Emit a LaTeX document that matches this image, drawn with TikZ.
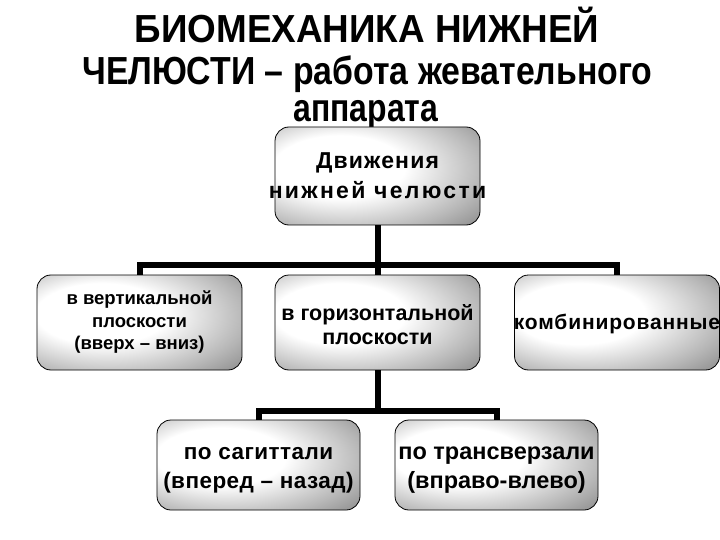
\documentclass[tikz,border=0pt]{standalone}
\usepackage{graphicx}
\usepackage{fontspec}
\setmainfont{Liberation Sans}
\newfontfamily\spA[LetterSpace=5]{Liberation Sans}
\newfontfamily\spB[LetterSpace=10]{Liberation Sans}
\newfontfamily\spC[LetterSpace=4]{Liberation Sans}
\newfontfamily\spD[LetterSpace=2]{Liberation Sans}
\pgfdeclareradialshading{metalshade}{\pgfpoint{-12bp}{6bp}}{color(0bp)=(white); color(16bp)=(white); color(32bp)=(black!28); color(50bp)=(black!62); color(70bp)=(black!82)}
\tikzset{
  box/.style={draw=black, line width=0.8pt, rounded corners=14pt, shading=metalshade,
    align=center, inner sep=2pt},
  conn/.style={line width=6pt, black},
  ttl/.style={font=\bfseries\fontsize{38}{42}\selectfont, anchor=base, inner sep=0pt}
}
\begin{document}
\begin{tikzpicture}[x=1pt,y=-1pt]
\useasboundingbox (0,0) rectangle (720,540);
\fill[white] (0,0) rectangle (720,540);
% title
\node[ttl] (t1) at (367,43) {\scalebox{0.97}[1.03]{БИОМЕХАНИКА НИЖНЕЙ}};
\node[ttl] (t2) at (367.5,85) {\scalebox{0.89}[1.03]{ЧЕЛЮСТИ – работа жевательного}};
\node[ttl] (t3) at (366,122) {\scalebox{0.84}[1.03]{аппарата}};
% boxes
\node[box, minimum width=205pt, minimum height=98pt] (T) at (377.5,176) {};
\node[font=\bfseries\fontsize{23}{30}\selectfont, align=center] (Tt) at (T.center) {{\spA Движения}\\{\spB нижней челюсти}};
\node[box, minimum width=205pt, minimum height=95pt] (L) at (139.5,322.5) {};
\node[font=\bfseries\fontsize{18.5}{22.5}\selectfont, align=center] (Lt) at ([yshift=0pt]L.center) {в вертикальной\\плоскости\\(вверх – вниз)};
\node[box, minimum width=205pt, minimum height=95pt] (M) at (377.5,322.5) {};
\node[font=\bfseries\fontsize{21.5}{24.5}\selectfont, align=center] (Mt) at ([yshift=-2pt]M.center) {в горизонтальной\\плоскости};
\node[box, minimum width=205pt, minimum height=95pt] (R) at (617,322.5) {};
\node[font=\bfseries\fontsize{21}{25}\selectfont, align=center] (Rt) at ([yshift=-1pt]R.center) {{\spC комбинированные}};
\node[box, minimum width=203pt, minimum height=90pt] (BL) at (258.5,465) {};
\node[font=\bfseries\fontsize{22.5}{29}\selectfont, align=center] (BLt) at ([yshift=-5pt]BL.center) {{\spD по сагиттали}\\{\spD (вперед – назад)}};
\node[box, minimum width=203pt, minimum height=90pt] (BR) at (496.5,465) {};
\node[font=\bfseries\fontsize{23.5}{29}\selectfont, align=center] (BRt) at ([yshift=-5pt]BR.center) {по трансверзали\\(вправо-влево)};
% connectors
\coordinate (b1) at (377.5,264.5);
\coordinate (b2) at (377.5,410.5);
\draw[conn] (T.south) -- (b1);
\draw[conn] (L.north) -- (L.north |- b1) -- (R.north |- b1) -- (R.north);
\draw[conn] (b1) -- (M.north);
\draw[conn] (M.south) -- (b2);
\draw[conn] (BL.north) -- (BL.north |- b2) -- (BR.north |- b2) -- (BR.north);
\end{tikzpicture}
\end{document}
